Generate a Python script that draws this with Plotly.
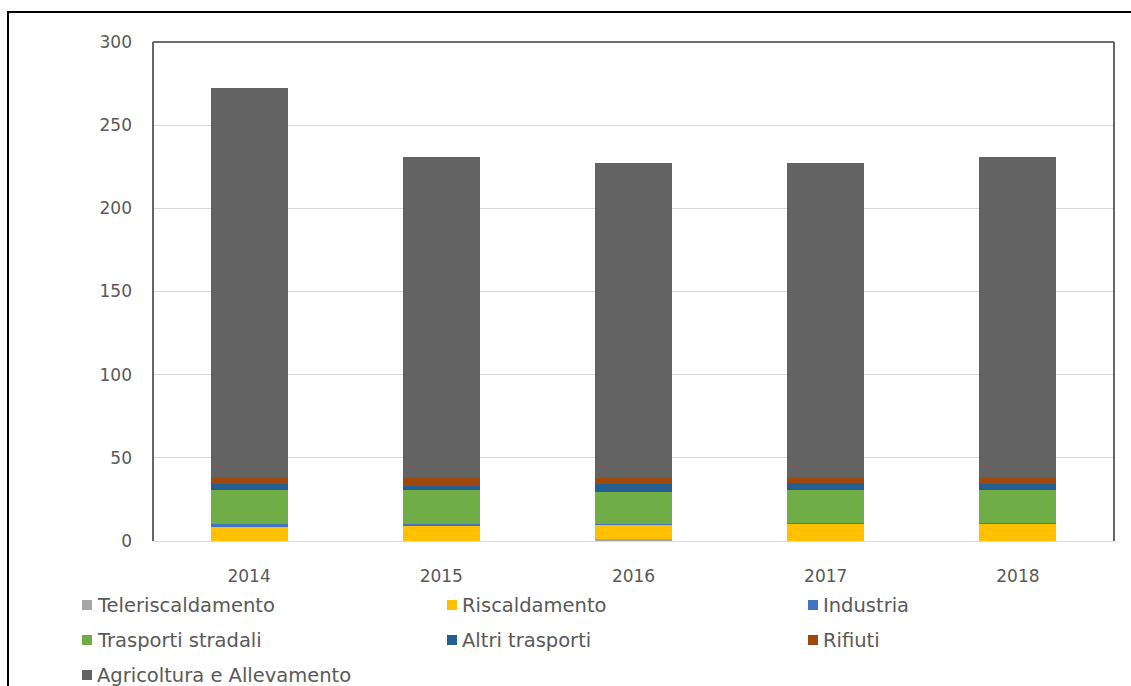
import plotly.graph_objects as go

# Emissioni per settore, anni 2014-2018
anni = ["2014", "2015", "2016", "2017", "2018"]

teleriscaldamento = [0.3, 0.3, 1.0, 0.3, 0.3]
riscaldamento = [8.7, 9.0, 8.8, 10.2, 10.2]
industria = [1.0, 1.0, 0.3, 0.3, 0.3]
trasporti_stradali = [20.5, 20.5, 19.6, 19.8, 19.9]
altri_trasporti = [3.6, 2.0, 4.5, 4.0, 3.6]
rifiuti = [3.6, 5.0, 3.6, 3.5, 3.8]
agricoltura = [234.6, 193.0, 189.4, 189.3, 192.7]

serie = [
    ("Teleriscaldamento", teleriscaldamento, "#A5A5A5"),
    ("Riscaldamento", riscaldamento, "#FFC000"),
    ("Industria", industria, "#4472C4"),
    ("Trasporti stradali", trasporti_stradali, "#70AD47"),
    ("Altri trasporti", altri_trasporti, "#255E91"),
    ("Rifiuti", rifiuti, "#9E480E"),
    ("Agricoltura e Allevamento", agricoltura, "#636363"),
]

y_ticks = [0, 50, 100, 150, 200, 250, 300]

W, H = 1131, 686
ML, MR, MT, MB = 153, 17, 42, 145
PW, PH = W - ML - MR, H - MT - MB
FONT = "DejaVu Sans"
TEXT_COLOR = "#595959"


def px_x(p):
    return (p - ML) / PW


def px_y(p):
    return (H - MB - p) / PH


fig = go.Figure()
for nome, valori, colore in serie:
    fig.add_trace(go.Bar(x=anni, y=valori, name=nome, marker_color=colore,
                         marker_line_width=0, showlegend=False))

shapes = [
    # cornice esterna
    dict(type="rect", xref="paper", yref="paper",
         x0=px_x(8), x1=px_x(1160), y0=px_y(720), y1=px_y(12),
         line=dict(color="#000000", width=2), layer="above"),
    # bordo dell'area del grafico (alto, sinistra, destra)
    dict(type="line", xref="paper", yref="paper", x0=0, x1=1, y0=1, y1=1,
         line=dict(color="#404040", width=1.6)),
    dict(type="line", xref="paper", yref="paper", x0=0, x1=0, y0=0, y1=1,
         line=dict(color="#404040", width=1.6)),
    dict(type="line", xref="paper", yref="paper", x0=1, x1=1, y0=0, y1=1,
         line=dict(color="#404040", width=1.6)),
]

# legenda su tre colonne
annotations = []
col_x = [82, 447, 808]
row_y = [605, 640, 675]
for i, (nome, _, colore) in enumerate(serie):
    cx = col_x[i % 3]
    cy = row_y[i // 3]
    shapes.append(dict(type="rect", xref="paper", yref="paper",
                       x0=px_x(cx), x1=px_x(cx + 10), y0=px_y(cy + 5), y1=px_y(cy - 5),
                       fillcolor=colore, line=dict(width=0)))
    annotations.append(dict(xref="paper", yref="paper", x=px_x(cx + 13), y=px_y(cy),
                            text=nome, showarrow=False, xanchor="left", yanchor="middle",
                            font=dict(family=FONT, size=19.5, color=TEXT_COLOR)))

fig.update_layout(
    width=W, height=H,
    margin=dict(l=ML, r=MR, t=MT, b=MB),
    barmode="stack", bargap=0.6,
    paper_bgcolor="white", plot_bgcolor="white",
    font=dict(family=FONT, size=17, color=TEXT_COLOR),
    shapes=shapes, annotations=annotations,
    xaxis=dict(showline=True, linecolor="#D9D9D9", linewidth=1, ticks="",
               ticklabelstandoff=20, tickfont=dict(size=17, color=TEXT_COLOR)),
    yaxis=dict(range=[0, 300], tickvals=y_ticks, showgrid=True, gridcolor="#D9D9D9",
               gridwidth=1, zeroline=False, ticks="", ticklabelstandoff=20,
               tickfont=dict(size=17, color=TEXT_COLOR)),
)

fig.write_html("out.html")
